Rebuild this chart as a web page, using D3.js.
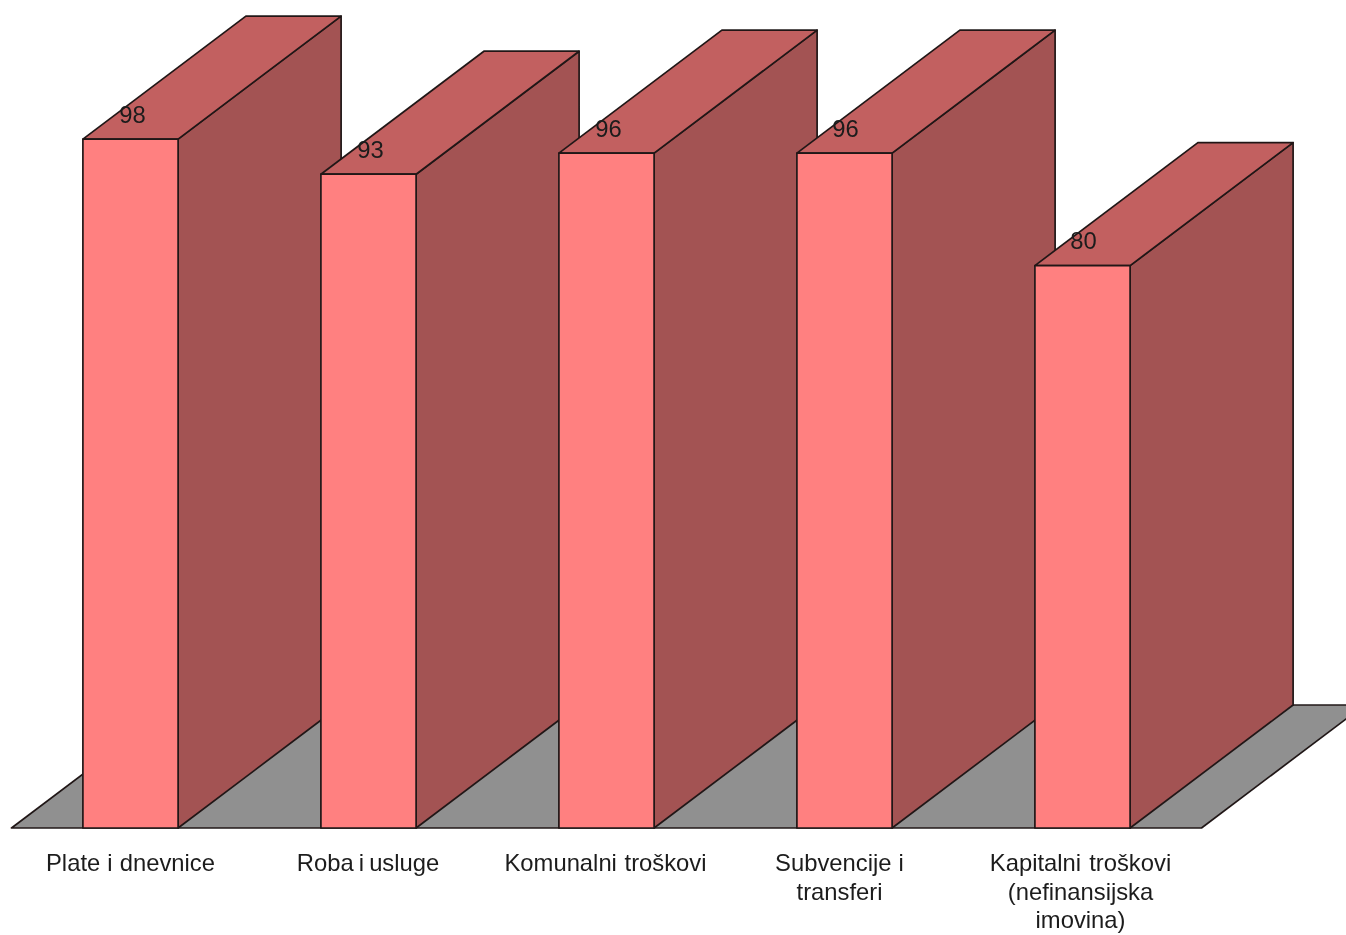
<!DOCTYPE html>
<html><head><meta charset="utf-8">
<script src="https://cdn.jsdelivr.net/npm/d3@7/dist/d3.min.js"></script>
<style>html,body{margin:0;padding:0;background:#fff;overflow:hidden}svg{display:block}
text{font-family:"Liberation Sans",Arial,sans-serif;fill:#1c1c1c}</style>
</head><body><svg id="c" width="1346" height="935"></svg>
<script>
const categories = ["Plate i dnevnice","Roba i usluge","Komunalni troškovi","Subvencije i transferi","Kapitalni troškovi (nefinansijska imovina)"];
const values = [98,93,96,96,80];
const categoryLines = [["Plate i dnevnice"],["Roba i usluge"],["Komunalni troškovi"],["Subvencije i","transferi"],["Kapitalni troškovi","(nefinansijska","imovina)"]];

const W=1346,H=935, depthX=163, depthY=-123;
const colors={front:"#ff8080",side:"#a35252",top:"#c26060",floor:"#909090",stroke:"#201818"};
const labelShift=[0,-0.5,-1,-5,-2];
const wordGap=[0.5,-1.5,1,0.5,1.5];
const valueShift=[2,2,2,1,1];

const svg=d3.select("#c");
const x=d3.scaleBand().domain(categories).range([11.5,1201.5]).paddingInner(0.6).paddingOuter(0.3);
const y=d3.scaleLinear().domain([0,100]).range([828,125]);
const line=d3.line();
const poly=(g,pts,fill)=>g.append("path").attr("d",line(pts)+"Z").attr("fill",fill)
  .attr("stroke",colors.stroke).attr("stroke-width",1.7).attr("stroke-linejoin","round");

const defs=svg.append("defs");
defs.append("filter").attr("id","soft").attr("x","-2%").attr("y","-2%").attr("width","104%").attr("height","104%")
  .append("feGaussianBlur").attr("stdDeviation",0.45);
const root=svg.append("g").attr("filter","url(#soft)");

// floor
const [x0,x1]=x.range(), y0=y(0);
poly(root.append("g"),[[x0,y0],[x1,y0],[x1+depthX,y0+depthY],[x0+depthX,y0+depthY]],colors.floor);

// bars, left to right so that each one hides the side of the previous one
const bars=root.selectAll("g.bar").data(categories.map((c,i)=>({c,v:values[i],i}))).join("g").attr("class","bar");
bars.each(function(d){
  const g=d3.select(this), l=x(d.c), r=l+x.bandwidth(), t=y(d.v);
  poly(g,[[r,y0],[r+depthX,y0+depthY],[r+depthX,t+depthY],[r,t]],colors.side);
  poly(g,[[l,t],[r,t],[r+depthX,t+depthY],[l+depthX,t+depthY]],colors.top);
  poly(g,[[l,y0],[r,y0],[r,t],[l,t]],colors.front);
});

// value labels
root.selectAll("text.val").data(categories.map((c,i)=>({c,v:values[i],i}))).join("text").attr("class","val")
  .attr("x",d=>x(d.c)+x.bandwidth()/2+valueShift[d.i]).attr("y",d=>y(d.v)-16.5)
  .attr("text-anchor","middle").attr("font-size",23.8).text(d=>d.v);

// category labels
categories.forEach((c,i)=>{
  const t=root.append("text").attr("class","cat").attr("text-anchor","middle").attr("font-size",23.8)
    .attr("y",y0+43).style("word-spacing",wordGap[i]+"px");
  categoryLines[i].forEach((s,j)=>t.append("tspan").attr("x",x(c)+x.bandwidth()/2+labelShift[i])
    .attr("dy",j?28.5:0).text(s));
});
</script></body></html>
